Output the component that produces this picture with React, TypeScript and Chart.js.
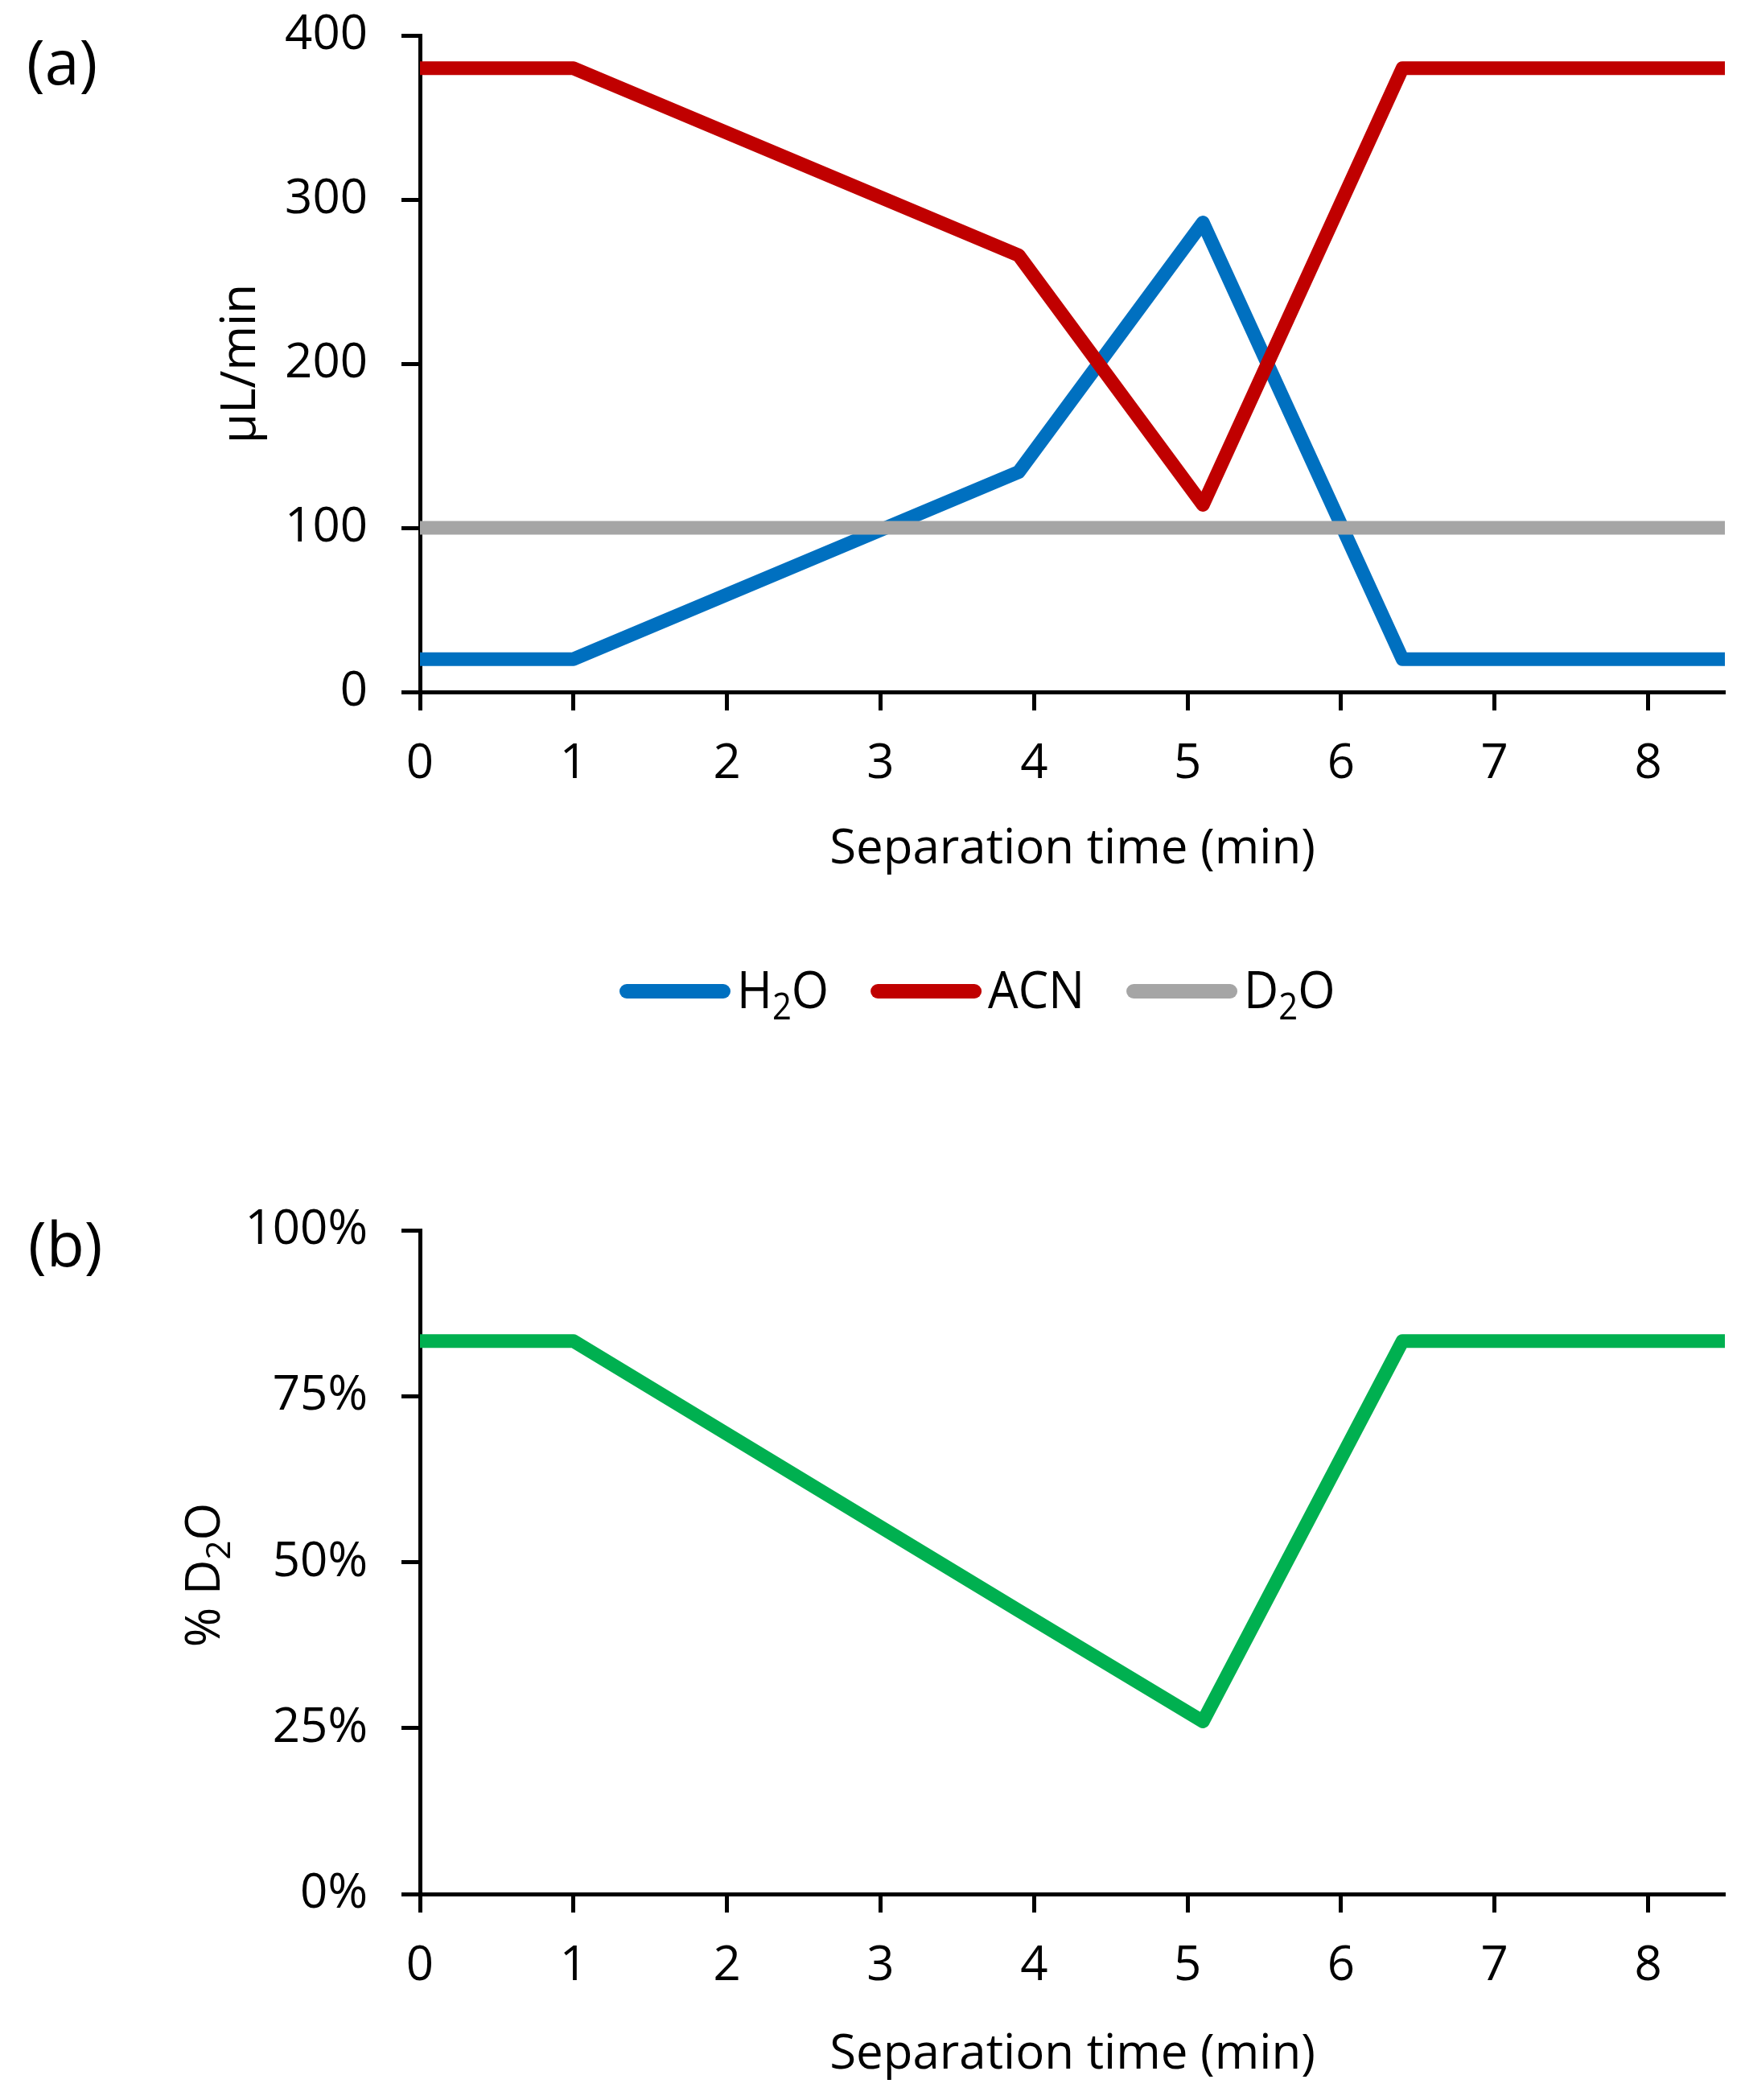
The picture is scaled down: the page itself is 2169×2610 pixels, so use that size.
import React, { useEffect, useRef } from "react";
import { Chart, registerables } from "chart.js";

Chart.register(...registerables);

const FONT_FAMILY = "'Open Sans', 'Noto Sans', sans-serif";

// ---- data ----
const timeMin = [0, 1, 3.9, 5.1, 6.4, 8.5];
const h2oFlow = [20, 20, 134, 286, 20, 20];
const acnFlow = [380, 380, 266, 114, 380, 380];
const d2oFlow = [100, 100, 100, 100, 100, 100];
const d2oPercent = [83.3, 83.3, 42.7, 26.0, 83.3, 83.3];

const seriesLabels = ["H_2O", "ACN", "D_2O"];
const seriesColors = ["#0070C0", "#C00000", "#A5A5A5"];
const percentColor = "#00B050";

const xMin = 0;
const xMax = 8.5;
const xStep = 1;
const flowMin = 0;
const flowMax = 400;
const flowStep = 100;
const pctMin = 0;
const pctMax = 100;
const pctStep = 25;

const xTitle = "Separation time (min)";
const flowTitle = "μL/min";
const pctTitle = "% D_2O";
const panelA = "(a)";
const panelB = "(b)";

// ---- rich text helpers (subscripts) ----
type Seg = { t: string; sub: boolean };
function parseRich(s: string): Seg[] {
  const out: Seg[] = [];
  let buf = "";
  for (let i = 0; i < s.length; i++) {
    if (s[i] === "_" && i + 1 < s.length) {
      if (buf) out.push({ t: buf, sub: false });
      buf = "";
      out.push({ t: s[i + 1], sub: true });
      i++;
    } else buf += s[i];
  }
  if (buf) out.push({ t: buf, sub: false });
  return out;
}
function fontFor(size: number, sub: boolean) {
  return `${sub ? Math.round(size * 0.7) : size}px ${FONT_FAMILY}`;
}
function richWidth(ctx: CanvasRenderingContext2D, segs: Seg[], size: number) {
  let w = 0;
  for (const s of segs) {
    ctx.font = fontFor(size, s.sub);
    w += ctx.measureText(s.t).width;
  }
  return w;
}
function drawRich(
  ctx: CanvasRenderingContext2D,
  segs: Seg[],
  x: number,
  y: number,
  size: number,
  align: "left" | "center"
) {
  const w = richWidth(ctx, segs, size);
  let cx = align === "center" ? x - w / 2 : x;
  ctx.textAlign = "left";
  ctx.textBaseline = "alphabetic";
  for (const s of segs) {
    ctx.font = fontFor(size, s.sub);
    ctx.fillText(s.t, cx, s.sub ? y + size * 0.22 : y);
    cx += ctx.measureText(s.t).width;
  }
  return w;
}

const TICK_FONT = { family: FONT_FAMILY, size: 60 };

function makeOptions(
  yMin: number,
  yMax: number,
  yStep: number,
  yFmt: (v: number) => string,
  padTop: number,
  xAxisHeight: number
): any {
  const grid = {
    drawOnChartArea: false,
    drawTicks: true,
    tickLength: 23,
    tickWidth: 5,
    tickColor: "#000",
  };
  const border = { display: true, color: "#000", width: 5 };
  return {
    responsive: false,
    animation: false,
    devicePixelRatio: 1,
    layout: { padding: { top: padTop, right: 25, left: 0, bottom: 0 } },
    plugins: { legend: { display: false }, tooltip: { enabled: false } },
    elements: { point: { radius: 0 }, line: { tension: 0 } },
    scales: {
      x: {
        type: "linear",
        min: xMin,
        max: xMax,
        ticks: {
          stepSize: xStep,
          includeBounds: false,
          font: TICK_FONT,
          color: "#000",
          padding: 31,
          maxRotation: 0,
          autoSkip: false,
        },
        grid,
        border,
        afterFit: (s: any) => {
          s.height = xAxisHeight;
          s.paddingLeft = 0;
          s.paddingRight = 0;
        },
      },
      y: {
        type: "linear",
        min: yMin,
        max: yMax,
        ticks: {
          stepSize: yStep,
          font: TICK_FONT,
          color: "#000",
          padding: 42,
          callback: (v: any) => yFmt(Number(v)),
        },
        grid,
        border,
        afterFit: (s: any) => {
          s.width = 522;
          s.paddingTop = 0;
          s.paddingBottom = 0;
        },
      },
    },
  };
}

function lineDataset(label: string, ys: number[], color: string, order: number) {
  return {
    label,
    data: timeMin.map((x, i) => ({ x, y: ys[i] })),
    borderColor: color,
    backgroundColor: color,
    borderWidth: 17,
    borderJoinStyle: "round" as const,
    borderCapStyle: "butt" as const,
    pointRadius: 0,
    fill: false,
    order,
  };
}

const H_A = 1300;
const H_B = 1310;

const panelAPlugin = {
  id: "panelAText",
  afterDraw(chart: any) {
    const ctx: CanvasRenderingContext2D = chart.ctx;
    const area = chart.chartArea;
    ctx.save();
    ctx.fillStyle = "#000";
    drawRich(ctx, parseRich(panelA), 33, 105, 77, "left");
    drawRich(ctx, parseRich(xTitle), (area.left + area.right) / 2, area.bottom + 213, 60, "center");
    ctx.save();
    ctx.translate(317, (area.top + area.bottom) / 2);
    ctx.rotate(-Math.PI / 2);
    drawRich(ctx, parseRich(flowTitle), 0, 0, 60, "center");
    ctx.restore();

    // legend
    const lineY = area.bottom + 372;
    const baseY = area.bottom + 393;
    const lineLen = 138;
    const lw = 18;
    const textScale = 0.93;
    let x = 770;
    chart.data.datasets.forEach((ds: any, i: number) => {
      ctx.strokeStyle = seriesColors[i];
      ctx.lineWidth = lw;
      ctx.lineCap = "round";
      ctx.beginPath();
      ctx.moveTo(x + lw / 2, lineY);
      ctx.lineTo(x + lineLen - lw / 2, lineY);
      ctx.stroke();
      const tx = x + lineLen + 8;
      ctx.save();
      ctx.translate(tx, baseY);
      ctx.scale(textScale, 1);
      ctx.fillStyle = "#000";
      const w = drawRich(ctx, parseRich(seriesLabels[i]), 0, 0, 64, "left");
      ctx.restore();
      x = tx + w * textScale + 52;
    });
    ctx.restore();
  },
};

const panelBPlugin = {
  id: "panelBText",
  afterDraw(chart: any) {
    const ctx: CanvasRenderingContext2D = chart.ctx;
    const area = chart.chartArea;
    ctx.save();
    ctx.fillStyle = "#000";
    drawRich(ctx, parseRich(panelB), 35, area.top + 45, 77, "left");
    drawRich(ctx, parseRich(xTitle), (area.left + area.right) / 2, area.bottom + 217, 60, "center");
    ctx.save();
    ctx.translate(273, (area.top + area.bottom) / 2 + 16);
    ctx.rotate(-Math.PI / 2);
    drawRich(ctx, parseRich(pctTitle), 0, 0, 60, "center");
    ctx.restore();
    ctx.restore();
  },
};

export default function App() {
  const refA = useRef<HTMLCanvasElement>(null);
  const refB = useRef<HTMLCanvasElement>(null);

  useEffect(() => {
    const chartA = new Chart(refA.current as HTMLCanvasElement, {
      type: "line",
      data: {
        datasets: [
          lineDataset(seriesLabels[0], h2oFlow, seriesColors[0], 3),
          lineDataset(seriesLabels[1], acnFlow, seriesColors[1], 2),
          lineDataset(seriesLabels[2], d2oFlow, seriesColors[2], 1),
        ],
      },
      options: makeOptions(flowMin, flowMax, flowStep, (v) => String(v), 44, H_A - 860),
      plugins: [panelAPlugin],
    } as any);

    const chartB = new Chart(refB.current as HTMLCanvasElement, {
      type: "line",
      data: {
        datasets: [lineDataset(pctTitle, d2oPercent, percentColor, 1)],
      },
      options: makeOptions(pctMin, pctMax, pctStep, (v) => `${v}%`, 229, H_B - 1054),
      plugins: [panelBPlugin],
    } as any);

    return () => {
      chartA.destroy();
      chartB.destroy();
    };
  }, []);

  return (
    <div
      style={{
        position: "absolute",
        left: 0,
        top: 0,
        width: 2169,
        height: 2610,
        background: "#fff",
      }}
    >
      <canvas
        ref={refA}
        width={2169}
        height={H_A}
        style={{ position: "absolute", left: 0, top: 0, width: 2169, height: H_A }}
      />
      <canvas
        ref={refB}
        width={2169}
        height={H_B}
        style={{ position: "absolute", left: 0, top: H_A, width: 2169, height: H_B }}
      />
    </div>
  );
}
